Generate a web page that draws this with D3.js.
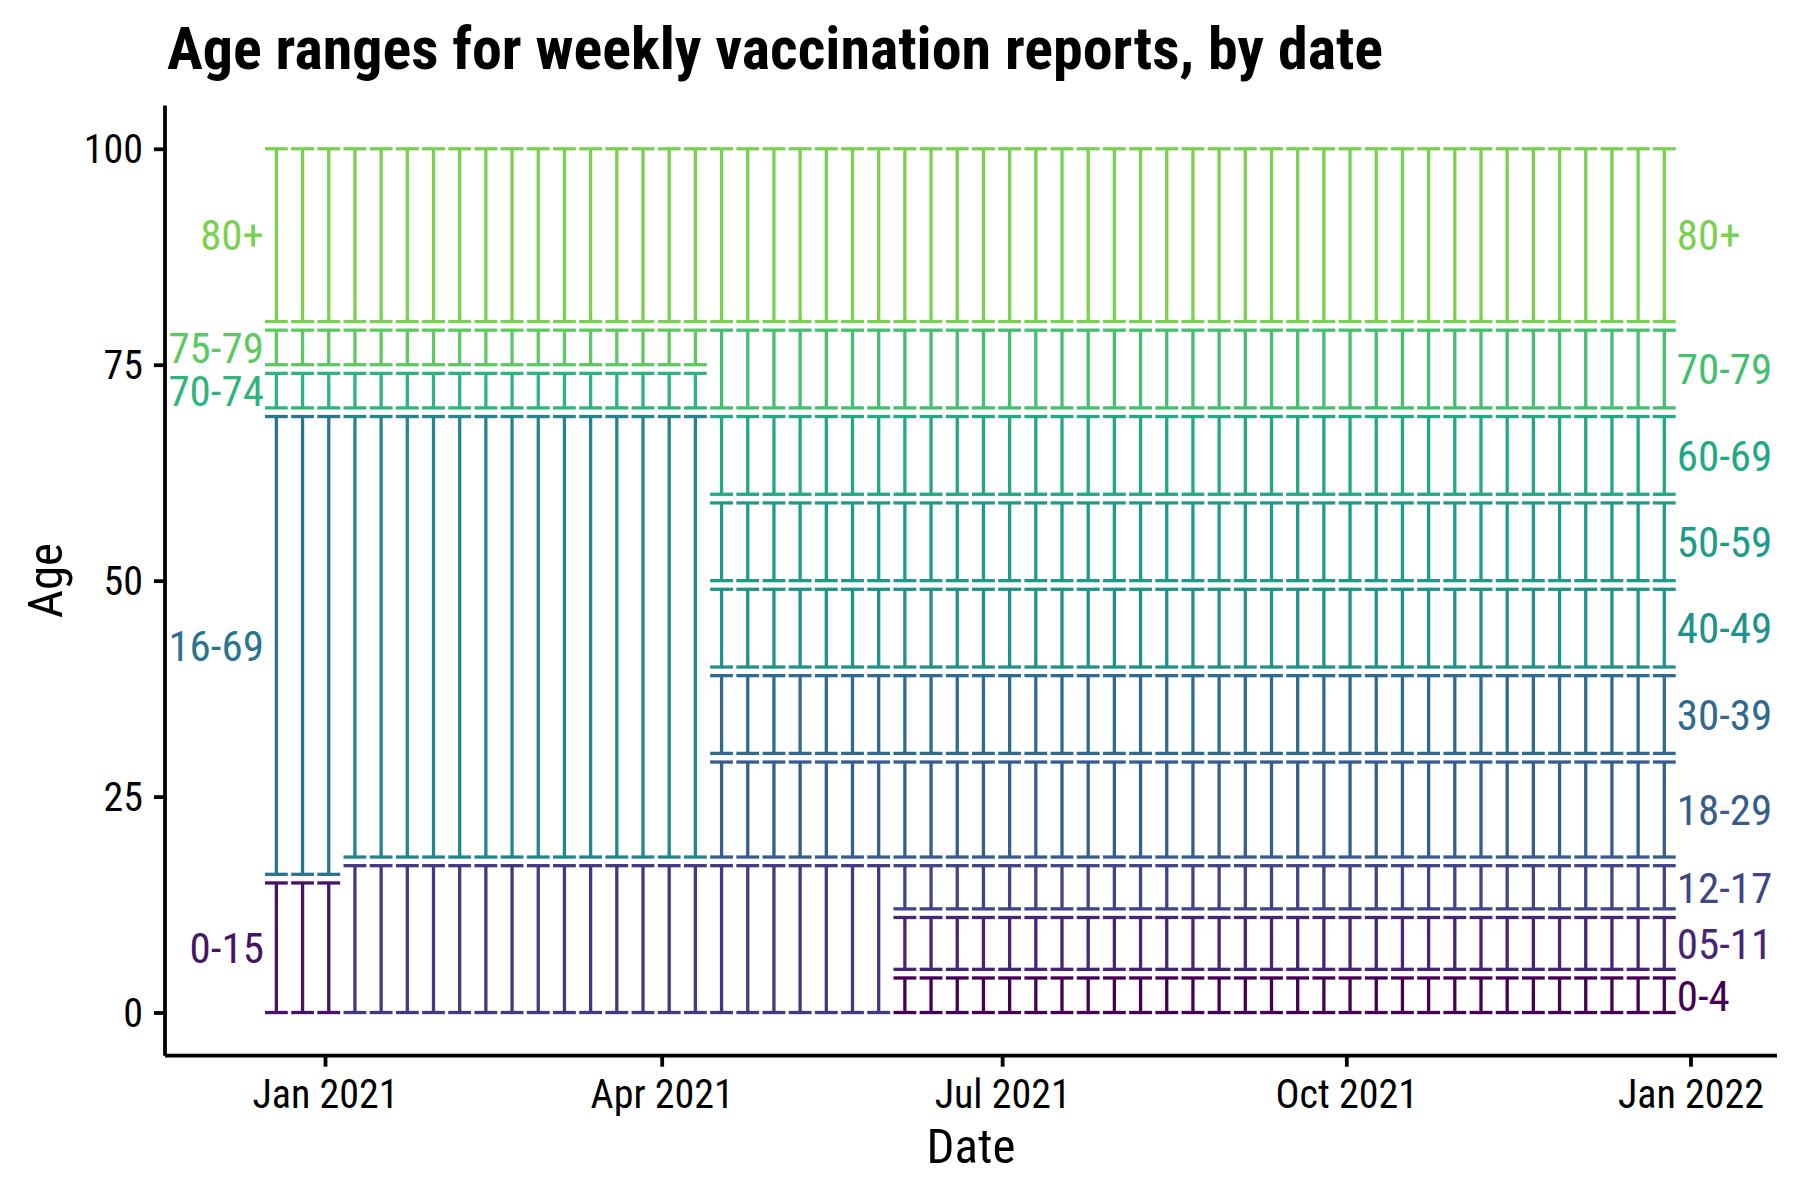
<!DOCTYPE html>
<html>
<head>
<meta charset="utf-8">
<script src="https://cdn.jsdelivr.net/npm/d3@7"></script>
<style>
  html, body { margin: 0; padding: 0; background: #fff; }
  svg text { font-family: "Roboto Condensed", "Roboto", sans-serif; font-stretch: condensed; }
</style>
</head>
<body>
<svg id="chart" width="1800" height="1200"></svg>
<script>
// ---------------- DATA ----------------
const reportDates = [
  "2020-12-19","2020-12-26","2021-01-02","2021-01-09","2021-01-16","2021-01-23",
  "2021-01-30","2021-02-06","2021-02-13","2021-02-20","2021-02-27","2021-03-06",
  "2021-03-13","2021-03-20","2021-03-27","2021-04-03","2021-04-10","2021-04-17",
  "2021-04-24","2021-05-01","2021-05-08","2021-05-15","2021-05-22","2021-05-29",
  "2021-06-05","2021-06-12","2021-06-19","2021-06-26","2021-07-03","2021-07-10",
  "2021-07-17","2021-07-24","2021-07-31","2021-08-07","2021-08-14","2021-08-21",
  "2021-08-28","2021-09-04","2021-09-11","2021-09-18","2021-09-25","2021-10-02",
  "2021-10-09","2021-10-16","2021-10-23","2021-10-30","2021-11-06","2021-11-13",
  "2021-11-20","2021-11-27","2021-12-04","2021-12-11","2021-12-18","2021-12-25"
];

// age groups: label, lower age, upper age
const groupLabels = ["0-4","0-15","05-11","0-17","12-17","18-29","30-39","16-69","18-69","40-49","50-59","60-69","70-74","70-79","75-79","80+"];
const groupLower  = [0, 0, 5, 0, 12, 18, 30, 16, 18, 40, 50, 60, 70, 70, 75, 80];
const groupUpper  = [4, 15, 11, 17, 17, 29, 39, 69, 69, 49, 59, 69, 74, 79, 79, 100];

// reporting schemes (which groups were reported) and first report using each
const scheme1 = ["0-15","16-69","70-74","75-79","80+"];
const scheme2 = ["0-17","18-69","70-74","75-79","80+"];
const scheme3 = ["0-17","18-29","30-39","40-49","50-59","60-69","70-79","80+"];
const scheme4 = ["0-4","05-11","12-17","18-29","30-39","40-49","50-59","60-69","70-79","80+"];
const schemeFirstReport = ["2020-12-19","2021-01-09","2021-04-17","2021-06-05"];

const yTicks = [0, 25, 50, 75, 100];
const xTicks = ["2021-01-01","2021-04-01","2021-07-01","2021-10-01","2022-01-01"];

const titleText = "Age ranges for weekly vaccination reports, by date";
const xTitle = "Date";
const yTitle = "Age";

// ---------------- STYLE ----------------
// viridis positions per group (same order as groupLabels)
const groupViridisT = [0.0, 0.05, 0.1, 0.16, 0.2, 0.29, 0.34, 0.385, 0.45, 0.5, 0.55, 0.6, 0.65, 0.7, 0.75, 0.8];

// ---------------- BUILD ----------------
const parse = d3.utcParse("%Y-%m-%d");
const schemes = [scheme1, scheme2, scheme3, scheme4];
const schemeStarts = schemeFirstReport.map(parse);

const rows = [];
reportDates.forEach(ds => {
  const d = parse(ds);
  let si = 0;
  schemeStarts.forEach((s, i) => { if (d >= s) si = i; });
  schemes[si].forEach(gname => {
    const gi = groupLabels.indexOf(gname);
    rows.push({ date: d, group: gname, lo: groupLower[gi], hi: groupUpper[gi],
                color: d3.interpolateViridis(groupViridisT[gi]) });
  });
});

const svg = d3.select("#chart");
const pL = 165, pR = 1777, pT = 105.6, pB = 1055.7;

const x = d3.scaleUtc()
  .domain([new Date(Date.UTC(2020, 10, 19, 5, 30)), new Date(Date.UTC(2022, 0, 24, 3, 0))])
  .range([pL, pR]);
const y = d3.scaleLinear().domain([-5, 105]).range([pB, pT]);

const DAY = 86400000;
const halfCap = 3.05 * DAY;
const lw = 3.3;

const gMarks = svg.append("g");

// vertical segments
gMarks.selectAll("line.v").data(rows).join("line")
  .attr("class", "v")
  .attr("x1", d => x(d.date)).attr("x2", d => x(d.date))
  .attr("y1", d => y(d.lo)).attr("y2", d => y(d.hi))
  .attr("stroke", d => d.color).attr("stroke-width", lw);

// caps
const caps = [];
rows.forEach(r => { caps.push({ r, v: r.lo }); caps.push({ r, v: r.hi }); });
gMarks.selectAll("line.cap").data(caps).join("line")
  .attr("class", "cap")
  .attr("x1", d => x(new Date(+d.r.date - halfCap)))
  .attr("x2", d => x(new Date(+d.r.date + halfCap)))
  .attr("y1", d => y(d.v)).attr("y2", d => y(d.v))
  .attr("stroke", d => d.r.color).attr("stroke-width", lw);

// labels
const firstDate = parse(reportDates[0]);
const lastDate = parse(reportDates[reportDates.length - 1]);
const leftRows = rows.filter(r => +r.date === +firstDate);
const rightRows = rows.filter(r => +r.date === +lastDate);

gMarks.selectAll("text.ll").data(leftRows).join("text")
  .attr("class", "ll")
  .attr("x", x(new Date(+firstDate - halfCap)) - 1)
  .attr("y", d => y((d.lo + d.hi) / 2))
  .attr("dy", "0.355em")
  .attr("text-anchor", "end")
  .attr("font-size", 43)
  .attr("fill", d => d.color)
  .text(d => d.group);

gMarks.selectAll("text.rl").data(rightRows).join("text")
  .attr("class", "rl")
  .attr("x", x(new Date(+lastDate + halfCap)) + 1)
  .attr("y", d => y((d.lo + d.hi) / 2))
  .attr("dy", "0.355em")
  .attr("text-anchor", "start")
  .attr("font-size", 43)
  .attr("fill", d => d.color)
  .text(d => d.group);

// axes
const xAxis = svg.append("g")
  .attr("transform", `translate(0,${pB})`)
  .call(d3.axisBottom(x).tickValues(xTicks.map(parse)).tickFormat(d3.utcFormat("%b %Y"))
        .tickSize(11).tickPadding(12).tickSizeOuter(0));
xAxis.attr("font-family", null).attr("font-size", null);
xAxis.select(".domain").attr("stroke", "#000").attr("stroke-width", 3.8)
  .attr("d", `M${pL},0H${pR}`);
xAxis.selectAll(".tick line").attr("stroke", "#000").attr("stroke-width", 3.8);
xAxis.selectAll(".tick text").attr("font-size", 40).attr("fill", "#000")
  .attr("dy", null).attr("y", 52.6);

const yAxis = svg.append("g")
  .attr("transform", `translate(${pL},0)`)
  .call(d3.axisLeft(y).tickValues(yTicks).tickSize(11).tickPadding(12).tickSizeOuter(0));
yAxis.attr("font-family", null).attr("font-size", null);
yAxis.select(".domain").attr("stroke", "#000").attr("stroke-width", 3.8)
  .attr("d", `M0,${pT}V${pB}`);
yAxis.selectAll(".tick line").attr("stroke", "#000").attr("stroke-width", 3.8);
yAxis.selectAll(".tick text").attr("font-size", 40).attr("fill", "#000")
  .attr("dy", "0.355em").attr("x", -22);

// titles
svg.append("text").attr("x", 167).attr("y", 69)
  .attr("font-size", 60).attr("font-weight", 700).attr("fill", "#000")
  .text(titleText);

svg.append("text").attr("x", (pL + pR) / 2).attr("y", 1163)
  .attr("text-anchor", "middle").attr("font-size", 49).attr("fill", "#000")
  .text(xTitle);

svg.append("text").attr("transform", `translate(62,${(pT + pB) / 2}) rotate(-90)`)
  .attr("text-anchor", "middle").attr("font-size", 49).attr("fill", "#000")
  .text(yTitle);
</script>
</body>
</html>
